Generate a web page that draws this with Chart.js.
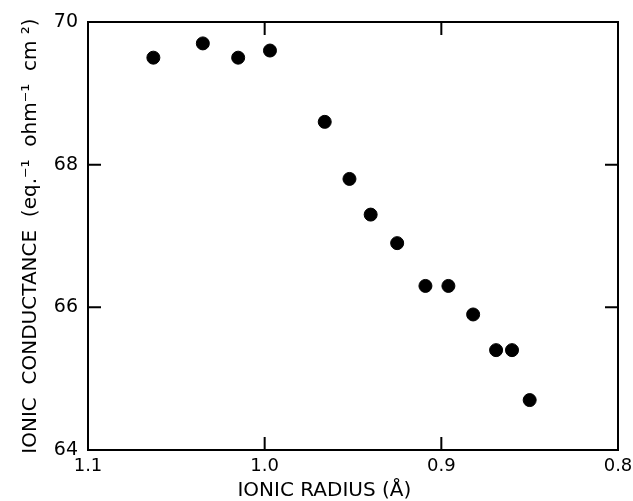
<!DOCTYPE html>
<html>
<head>
<meta charset="utf-8">
<script src="https://cdn.jsdelivr.net/npm/chart.js@4.4.1/dist/chart.umd.min.js"></script>
<style>
    html, body { margin: 0; padding: 0; background: #fff; }
    #wrap { width: 633px; height: 501px; }
</style>
</head>
<body>
<div id="wrap"><canvas id="conductChart"></canvas></div>
<script>
        // ionic radius (Å) vs ionic conductance
        const ionicRadius = [1.063, 1.035, 1.015, 0.997, 0.966, 0.952, 0.940, 0.925, 0.909, 0.896, 0.882, 0.869, 0.860, 0.850];
        const conductance = [69.5, 69.7, 69.5, 69.6, 68.6, 67.8, 67.3, 66.9, 66.3, 66.3, 65.9, 65.4, 65.4, 64.7];
        const xTicks = [1.1, 1.0, 0.9, 0.8];
        const yTicks = [64, 66, 68, 70];

        const font = "'DejaVu Sans', sans-serif";
        // the x title sits left of the plot centre in the original; pad it on the right
        const xTitlePad = '\u00a0'.repeat(9);

        // frame round the plot plus short inward ticks on all four sides
        const framePlugin = {
            id: 'frame',
            afterDraw(chart) {
                const { ctx, chartArea: a, scales } = chart;
                ctx.save();
                ctx.strokeStyle = '#000';
                ctx.lineWidth = 2;
                ctx.strokeRect(a.left, a.top, a.right - a.left, a.bottom - a.top);
                const len = 13;
                ctx.beginPath();
                xTicks.forEach(v => {
                    const px = scales.x.getPixelForValue(v);
                    ctx.moveTo(px, a.bottom); ctx.lineTo(px, a.bottom - len);
                    ctx.moveTo(px, a.top); ctx.lineTo(px, a.top + len);
                });
                yTicks.forEach(v => {
                    const py = scales.y.getPixelForValue(v);
                    ctx.moveTo(a.left, py); ctx.lineTo(a.left + len, py);
                    ctx.moveTo(a.right, py); ctx.lineTo(a.right - len, py);
                });
                ctx.stroke();
                ctx.restore();
            }
        };

        const conductChart = new Chart(document.getElementById('conductChart'), {
            type: 'scatter',
            data: {
                datasets: [{
                    data: ionicRadius.map((r, i) => ({ x: r, y: conductance[i] })),
                    backgroundColor: '#000',
                    borderColor: '#000',
                    pointRadius: 6.5,
                    pointHoverRadius: 6.5
                }]
            },
            options: {
                responsive: true,
                maintainAspectRatio: false,
                animation: false,
                layout: { padding: { top: 22, right: 15, left: 0, bottom: 0 } },
                plugins: {
                    legend: { display: false },
                    tooltip: { enabled: false }
                },
                scales: {
                    x: {
                        type: 'linear',
                        reverse: true,
                        min: 0.8,
                        max: 1.1,
                        afterBuildTicks: s => { s.ticks = xTicks.map(v => ({ value: v })); },
                        afterFit: s => { s.height = 51; s.paddingLeft = 0; s.paddingRight = 0; },
                        grid: { display: false, drawTicks: false },
                        border: { display: false },
                        ticks: {
                            color: '#000',
                            padding: 6,
                            maxRotation: 0,
                            font: { family: font, size: 18 },
                            callback: v => v.toFixed(1)
                        },
                        title: {
                            display: true,
                            text: 'IONIC RADIUS (Å)' + xTitlePad,
                            color: '#000',
                            font: { family: font, size: 20, lineHeight: 1 },
                            padding: { top: 0, bottom: 0 }
                        }
                    },
                    y: {
                        min: 64,
                        max: 70,
                        afterBuildTicks: s => { s.ticks = yTicks.map(v => ({ value: v })); },
                        afterFit: s => { s.width = 88; s.paddingTop = 0; s.paddingBottom = 0; },
                        grid: { display: false, drawTicks: false },
                        border: { display: false },
                        ticks: {
                            color: '#000',
                            padding: 10,
                            font: { family: font, size: 19 },
                            callback: v => String(v)
                        },
                        title: {
                            display: true,
                            text: 'IONIC  CONDUCTANCE  (eq.⁻¹  ohm⁻¹  cm ²)',
                            color: '#000',
                            font: { family: font, size: 20 },
                            padding: { top: 19, bottom: 0 }
                        }
                    }
                }
            },
            plugins: [framePlugin]
        });
</script>
</body>
</html>
